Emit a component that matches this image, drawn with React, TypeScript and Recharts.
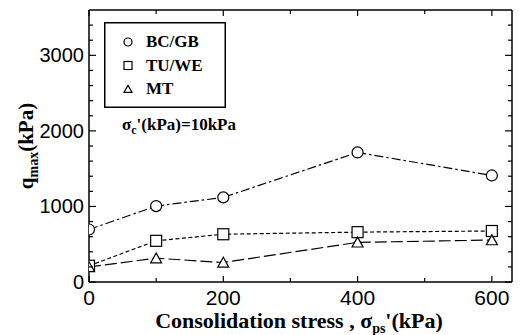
import { Legend, Line, LineChart, XAxis, YAxis } from "recharts";

const stress = [0, 100, 200, 400, 600];
const bcgb = [695, 1005, 1120, 1715, 1410];
const tuwe = [215, 545, 632, 660, 675];
const mt = [200, 315, 258, 525, 555];

const xTicks = [0, 100, 200, 300, 400, 500, 600];
const yTicks = [0, 200, 400, 600, 800, 1000, 1200, 1400, 1600, 1800, 2000, 2200, 2400, 2600, 2800, 3000, 3200, 3400];

const data = stress.map((s, i) => ({ x: s, bcgb: bcgb[i], tuwe: tuwe[i], mt: mt[i] }));

const SERIES = [
  { key: "bcgb", name: "BC/GB", shape: "circle", dash: "9 3 2.5 3" },
  { key: "tuwe", name: "TU/WE", shape: "square", dash: "4 2.5" },
  { key: "mt", name: "MT", shape: "triangle", dash: "12 4" },
];

const SANS = "Liberation Sans, Arial, sans-serif";
const SERIF = "Liberation Serif, Times New Roman, serif";

function Marker({ shape, cx, cy, s }: { shape: string; cx: number; cy: number; s: number }) {
  const h = s / 2;
  if (shape === "circle")
    return <circle cx={cx} cy={cy} r={h} fill="#fff" stroke="#000" strokeWidth={1.2} />;
  if (shape === "square")
    return <rect x={cx - h} y={cy - h} width={s} height={s} fill="#fff" stroke="#000" strokeWidth={1.2} />;
  return (
    <polygon
      points={`${cx - h},${cy + h * 0.85} ${cx + h},${cy + h * 0.85} ${cx},${cy - h * 0.95}`}
      fill="#fff"
      stroke="#000"
      strokeWidth={1.2}
    />
  );
}

// ticks drawn inward, labels only on majors
const BottomTick = (p: any) => {
  const v = p.payload.value;
  const major = v % 200 === 0;
  return (
    <g>
      <line x1={p.x} x2={p.x} y1={p.y} y2={p.y - (major ? 6 : 4)} stroke="#000" strokeWidth={1.2} />
      {major && (
        <text x={p.x} y={p.y + 23} textAnchor="middle" fontFamily={SANS} fontSize={21} fill="#000">
          {v}
        </text>
      )}
    </g>
  );
};

const TopTick = (p: any) => {
  const major = p.payload.value % 200 === 0;
  return <line x1={p.x} x2={p.x} y1={p.y} y2={p.y + (major ? 6 : 4)} stroke="#000" strokeWidth={1.2} />;
};

const LeftTick = (p: any) => {
  const v = p.payload.value;
  const major = v % 1000 === 0;
  return (
    <g>
      <line x1={p.x} x2={p.x + (major ? 7 : 4)} y1={p.y} y2={p.y} stroke="#000" strokeWidth={1.2} />
      {major && (
        <text x={p.x - 5} y={p.y + 7} textAnchor="end" fontFamily={SANS} fontSize={20} fill="#000">
          {v}
        </text>
      )}
    </g>
  );
};

const RightTick = (p: any) => {
  const major = p.payload.value % 1000 === 0;
  return <line x1={p.x} x2={p.x - (major ? 7 : 4)} y1={p.y} y2={p.y} stroke="#000" strokeWidth={1.2} />;
};

function LegendBox() {
  return (
    <svg width={122} height={86} style={{ display: "block" }}>
      <rect x={0.75} y={0.75} width={120.5} height={84.5} fill="#fff" stroke="#000" strokeWidth={1.5} />
      {SERIES.map((s, i) => (
        <g key={s.key}>
          <Marker shape={s.shape} cx={24} cy={20 + i * 23.5} s={8} />
          <text x={42} y={25 + i * 23.5} fontFamily={SERIF} fontWeight="bold" fontSize={17} fill="#000">
            {s.name}
          </text>
        </g>
      ))}
    </svg>
  );
}

export default function App() {
  const axisLine = { stroke: "#000", strokeWidth: 1.5 };
  return (
    <div style={{ position: "absolute", left: 0, top: 0, width: 525, height: 335, background: "#fff" }}>
      <LineChart width={525} height={335} data={data} margin={{ top: 9, right: 12, bottom: 52, left: 88 }}>
        <XAxis
          dataKey="x"
          type="number"
          domain={[0, 630]}
          ticks={xTicks}
          height={1}
          tickSize={0}
          tickMargin={0}
          axisLine={axisLine}
          tick={<BottomTick />}
          interval={0}
          allowDataOverflow
        />
        <XAxis
          xAxisId="top"
          orientation="top"
          dataKey="x"
          type="number"
          domain={[0, 630]}
          ticks={xTicks}
          height={1}
          tickSize={0}
          tickMargin={0}
          axisLine={axisLine}
          tick={<TopTick />}
          interval={0}
          allowDataOverflow
        />
        <YAxis
          type="number"
          domain={[0, 3600]}
          ticks={yTicks}
          width={1}
          tickSize={0}
          tickMargin={0}
          axisLine={axisLine}
          tick={<LeftTick />}
          interval={0}
          allowDataOverflow
        />
        <YAxis
          yAxisId="right"
          orientation="right"
          type="number"
          domain={[0, 3600]}
          ticks={yTicks}
          width={1}
          tickSize={0}
          tickMargin={0}
          axisLine={axisLine}
          tick={<RightTick />}
          interval={0}
          allowDataOverflow
        />
        <Legend
          layout="vertical"
          align="center"
          verticalAlign="middle"
          wrapperStyle={{ left: 104, top: 22, width: 122, height: 86 }}
          content={() => <LegendBox />}
        />
        {SERIES.map((s) => (
          <Line
            key={s.key}
            dataKey={s.key}
            name={s.name}
            stroke="#000"
            strokeWidth={1.2}
            strokeDasharray={s.dash}
            isAnimationActive={false}
            dot={(p: any) => <Marker key={`${s.key}-${p.index}`} shape={s.shape} cx={p.cx} cy={p.cy} s={11} />}
          />
        ))}
      </LineChart>
      <svg
        width={525}
        height={335}
        style={{ position: "absolute", left: 0, top: 0, pointerEvents: "none" }}
      >
        <text x={122} y={130} fontFamily={SERIF} fontWeight="bold" fontSize={17} fill="#000">
          σ<tspan fontSize={12} dy={4}>c</tspan>
          <tspan dy={-4}>'(kPa)=10kPa</tspan>
        </text>
        <text
          transform="translate(33,146) rotate(-90)"
          textAnchor="middle"
          fontFamily={SERIF}
          fontWeight="bold"
          fontSize={21}
          fill="#000"
        >
          q<tspan fontSize={14} dy={5}>max</tspan>
          <tspan dy={-5}>(kPa)</tspan>
        </text>
        <text x={299} y={328} textAnchor="middle" fontFamily={SERIF} fontWeight="bold" fontSize={22} fill="#000">
          Consolidation stress , σ<tspan fontSize={14} dy={5}>ps</tspan>
          <tspan dy={-5}>'(kPa)</tspan>
        </text>
      </svg>
    </div>
  );
}
